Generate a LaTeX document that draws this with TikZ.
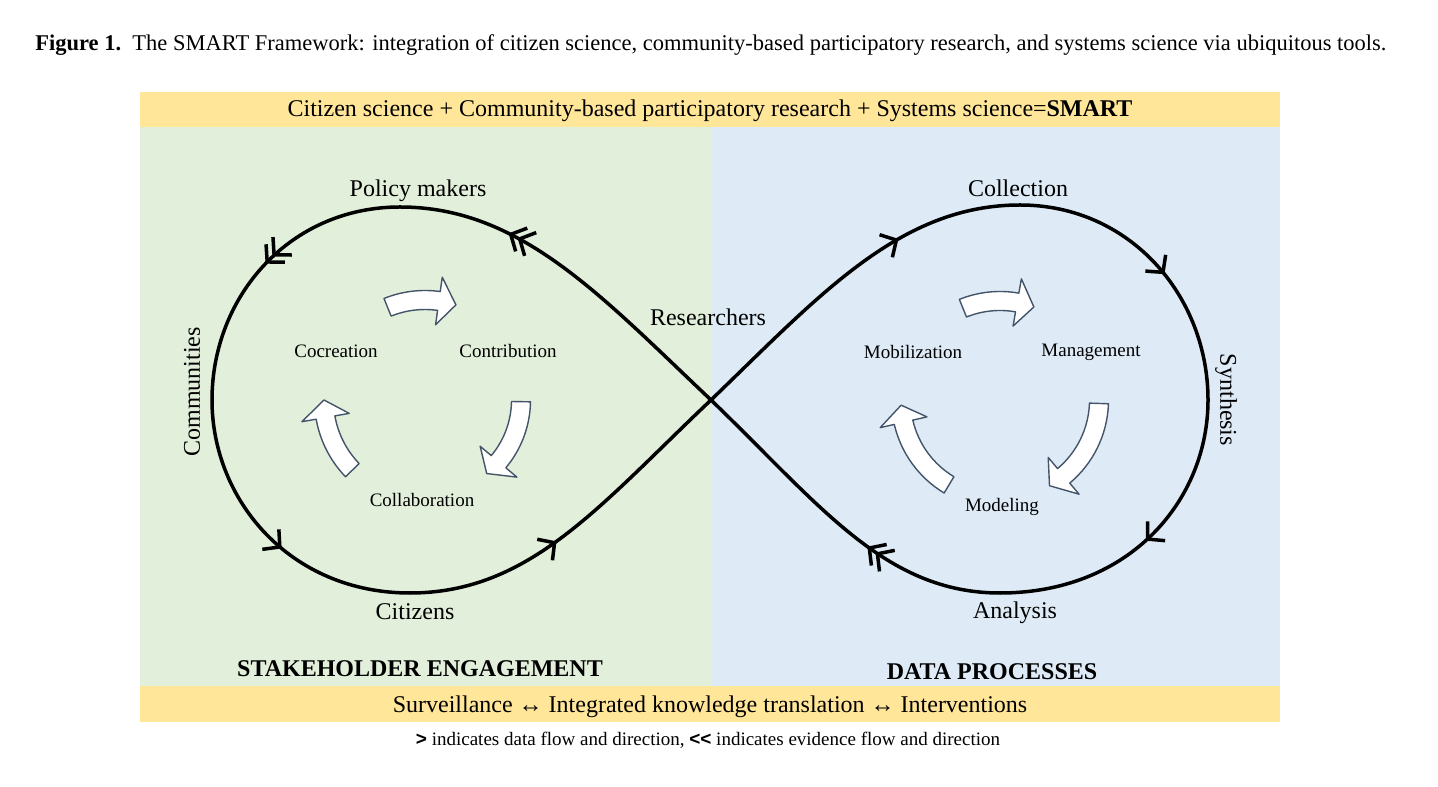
\documentclass[tikz,border=0pt]{standalone}
\usepackage{fontspec}
\setmainfont{Liberation Serif}
\newfontfamily\sansb{Liberation Sans}
\usetikzlibrary{arrows.meta,decorations.markings,calc}
\definecolor{bandY}{HTML}{FFE699}
\definecolor{greenP}{HTML}{E2EFDA}
\definecolor{blueP}{HTML}{DEEBF7}
\definecolor{arrEdge}{HTML}{44546A}
% #1 centre, #2 radius, #3 tail angle, #4 tip angle, #5 head length (deg)
\newcommand{\blockarc}[5]{%
  \draw[blockarrow] ($(#1)+({#3}:{#2+9.5})$) arc[start angle={#3}, end angle={#4+#5}, radius={#2+9.5}]
    -- ($(#1)+({#4+#5}:{#2+24})$) -- ($(#1)+({#4}:{#2})$) -- ($(#1)+({#4+#5}:{#2-24})$)
    -- ($(#1)+({#4+#5}:{#2-9.5})$) arc[start angle={#4+#5}, end angle={#3}, radius={#2-9.5}] -- cycle;}
\tikzset{
  lab/.style={font=\fontsize{12}{14}\selectfont, inner sep=0pt},
  inlab/.style={font=\fontsize{9.5}{11}\selectfont, inner sep=0pt},
  blockarrow/.style={fill=white, draw=arrEdge, line width=0.7pt, line join=round},
  loopline/.style={line width=1.75pt, line cap=round, line join=round},
  barb/.tip={Straight Barb[length=6pt,width=13pt]},
  one/.style={postaction={decorate}, decoration={markings, mark=at position #1 with {\arrow{barb}}}},
  two/.style={postaction={decorate}, decoration={markings, mark=at position #1 with {\arrow{barb}\pgftransformxshift{-5pt}\arrow{barb}}}},
}
\begin{document}
\begin{tikzpicture}[x=0.5pt,y=0.5pt]
\useasboundingbox (0,0) rectangle (1438,786);
% panels
\fill[greenP] (140,100) rectangle (711,659);
\fill[blueP] (711,100) rectangle (1280,659);
\fill[bandY] (140,659) rectangle (1280,694);
\fill[bandY] (140,64) rectangle (1280,100);
% caption
\node[anchor=west, inner sep=0pt, font=\fontsize{11.25}{13}\selectfont] (cap) at (35,741) {\textbf{Figure 1.}\ \ The SMART Framework: integration of citizen science, community-based participatory research, and systems science via ubiquitous tools.};
\node[lab] (top) at (710,675) {Citizen science + Community-based participatory research + Systems science=\textbf{SMART}};
\node[lab] (bot) at (710,79) {Surveillance ↔ Integrated knowledge translation ↔ Interventions};
\node[inner sep=0pt, font=\fontsize{9.5}{11}\selectfont] (note) at (708,46) {{\sansb\bfseries >} indicates data flow and direction, {\sansb\bfseries <{}<} indicates evidence flow and direction};
% infinity curve
\coordinate (C) at (711,386);
\coordinate (Lt) at (400,579);
\coordinate (Ll) at (212,386);
\coordinate (Lb) at (410,193);
\coordinate (Rt) at (1020,581);
\coordinate (Rr) at (1208,386);
\coordinate (Rb) at (1000,193);
\draw[loopline, two=0.70] (C) .. controls (600,491) and (520,579) .. (Lt);
\draw[loopline, two=0.50] (Lt) .. controls (290,579) and (212,490) .. (Ll);
\draw[loopline, one=0.55] (Ll) .. controls (212,286) and (290,193) .. (Lb);
\draw[loopline, one=0.43] (Lb) .. controls (530,193) and (600,281) .. (C);
\draw[loopline, one=0.66] (C) .. controls (820,491) and (900,581) .. (Rt);
\draw[loopline, one=0.55] (Rt) .. controls (1130,581) and (1208,490) .. (Rr);
\draw[loopline, one=0.5] (Rr) .. controls (1208,286) and (1130,193) .. (Rb);
\draw[loopline, two=0.40] (Rb) .. controls (885,193) and (820,281) .. (C);
% loop labels
\node[lab] (pm) at (418,595) {Policy makers};
\node[lab] (col) at (1018,598) {Collection};
\node[lab] (res) at (708,469) {Researchers};
\node[lab, rotate=90] (com) at (192,394) {Communities};
\node[lab, rotate=-90] (syn) at (1226,386) {Synthesis};
\node[lab] (cit) at (415,174) {Citizens};
\node[lab] (ana) at (1015,173) {Analysis};
\node[lab, font=\fontsize{12}{14}\selectfont\bfseries] (se) at (420,117) {STAKEHOLDER ENGAGEMENT};
\node[lab, font=\fontsize{12}{14}\selectfont\bfseries] (dp) at (992,114) {DATA PROCESSES};
% inner cycles
\coordinate (c1) at (425,386);
\coordinate (c2) at (1000,386);
\blockarc{c1}{100}{112}{72}{10}
\blockarc{c1}{96}{-1}{-50}{10}
\blockarc{c1}{101}{224}{180}{10}
\blockarc{c2}{99}{112}{70}{10}
\blockarc{c2}{99}{-2}{-60}{10}
\blockarc{c2}{99}{239}{183}{10}
\node[inlab] (cocr) at (336,435) {Cocreation};
\node[inlab] (cont) at (508,435) {Contribution};
\node[inlab] (coll) at (422,286) {Collaboration};
\node[inlab] (mob) at (913,434) {Mobilization};
\node[inlab] (man) at (1091,434) {Management};
\node[inlab] (mod) at (1002,279) {Modeling};
\end{tikzpicture}
\end{document}
